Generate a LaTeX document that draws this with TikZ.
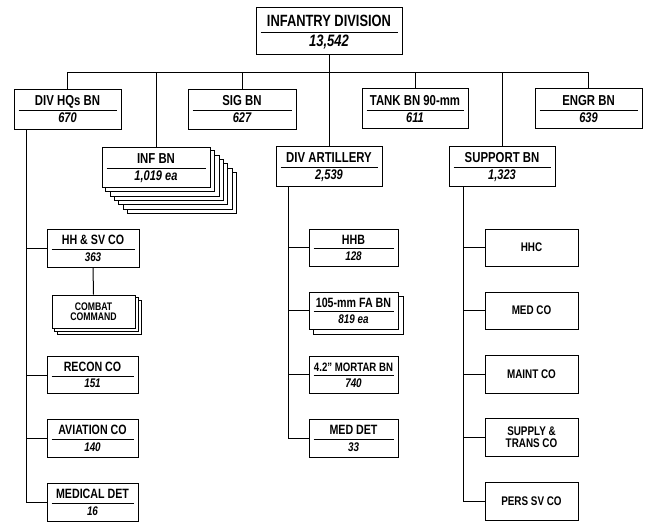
\documentclass[tikz,border=0pt]{standalone}
\usepackage{fontspec}
\setmainfont{Liberation Sans}[FakeStretch=0.79]
\usetikzlibrary{calc,backgrounds}
\tikzset{
 box/.style={draw, line width=1pt, fill=white, inner sep=0pt},
 ln/.style={line width=1pt},
 rl/.style={line width=0.8pt},
 txt/.style={anchor=base, inner sep=0pt},
 lbl/.style={inner sep=0pt, align=center},
}
% name cx cy w h title num titlesize numsize
\newcommand\OB[9]{%
 \node[box, minimum width=#4pt, minimum height=#5pt] (#1) at (#2,#3) {};
 \node[txt, font=\fontsize{#8}{#8}\selectfont\bfseries] (#1-t) at ($(#1.north)+(0,0.43*#5)$) {#6};
 \draw[rl] ($(#1.north west)+(5,0.55*#5)$) -- ($(#1.north east)+(-5,0.55*#5)$);
 \node[txt, font=\fontsize{#9}{#9}\selectfont\bfseries\itshape] (#1-n) at ($(#1.north)+(0,0.86*#5)$) {#7};
}
% name cx cy w h text size
\newcommand\SB[7]{%
 \node[box, minimum width=#4pt, minimum height=#5pt] (#1) at (#2,#3) {};
 \node[lbl, font=\fontsize{#7}{#7}\selectfont\bfseries] (#1-t) at (#1.center) {#6};
}
\begin{document}
\begin{tikzpicture}[x=1pt,y=-1pt]
\useasboundingbox (0,0) rectangle (650,525);
% top
\OB{div}{329}{30.5}{146}{47}{INFANTRY DIVISION}{13,542}{16.3}{16.5}
% row 1
\OB{hq}{67.5}{109}{107}{40}{DIV HQs BN}{670}{14.4}{14}
\OB{sig}{242}{109}{108}{40}{SIG BN}{627}{14.4}{14}
\OB{tank}{415}{108.5}{106}{40}{TANK BN 90-mm}{611}{14.4}{14}
\OB{engr}{588.5}{108.5}{107}{40}{ENGR BN}{639}{14.4}{14}
% row 2
\OB{inf}{156}{167}{108}{40}{INF BN}{1,019 ea}{14.4}{14}
\OB{art}{329}{166}{106}{40}{DIV ARTILLERY}{2,539}{14.4}{14}
\OB{sup}{502}{166}{106}{40}{SUPPORT BN}{1,323}{14.4}{14}
% HQ column
\OB{hhsv}{93}{248}{92}{38}{HH \& SV CO}{363}{13.5}{12.5}
\SB{cc}{93.5}{311.5}{83}{33}{COMBAT\\[-1pt]COMMAND}{11}
\OB{recon}{92.5}{375}{91}{37}{RECON CO}{151}{13.5}{12.5}
\OB{avn}{92.5}{438}{91}{38}{AVIATION CO}{140}{13.5}{12.5}
\OB{meddet}{92.5}{502}{91}{38}{MEDICAL DET}{16}{13.5}{12.5}
% artillery column
\OB{hhb}{353.5}{247.5}{89}{37}{HHB}{128}{13.5}{12.5}
\OB{fa}{353.5}{310.5}{89}{37}{105-mm FA BN}{819 ea}{13.5}{12.5}
\OB{mortar}{353.5}{374.5}{89}{37}{4.2'' MORTAR BN}{740}{12.2}{12.5}
\OB{med2}{353.5}{438}{89}{38}{MED DET}{33}{13.5}{12.5}
% support column
\SB{hhc}{531.5}{247.5}{93}{37}{HHC}{12.5}
\SB{medco}{531.5}{310.5}{93}{37}{MED CO}{12.5}
\SB{maint}{531.5}{374}{93}{38}{MAINT CO}{12.5}
\SB{supply}{531.5}{437}{93}{38}{SUPPLY \&\\[-1pt]TRANS CO}{12.5}
\SB{pers}{531.5}{501}{93}{38}{PERS SV CO}{12.5}
% stacks
\begin{pgfonlayer}{background}
 \foreach \k in {6,...,1}{
  \draw[box] ($(inf.south west)+(4.3*\k,4.3*\k)$) rectangle ($(inf.north east)+(4.3*\k,4.3*\k)$);
 }
 \foreach \k in {2,1}{
  \draw[box] ($(cc.south west)+(3*\k,3*\k)$) rectangle ($(cc.north east)+(3*\k,3*\k)$);
 }
 \draw[box] ($(fa.south west)+(4.5,4.5)$) rectangle ($(fa.north east)+(4.5,4.5)$);
\end{pgfonlayer}
% connectors
\coordinate (bus) at (0,72);
\draw[ln] (div.south) -- (art.north);
\draw[ln] (hq.north |- bus) -- (engr.north |- bus);
\foreach \n in {hq,sig,inf,tank,engr,sup} \draw[ln] (\n.north) -- (\n.north |- bus);
\coordinate (hqc) at ([xshift=13pt]hq.south west);
\draw[ln] (hqc) |- (meddet.west);
\foreach \n in {hhsv,recon,avn} \draw[ln] (hqc |- \n.west) -- (\n.west);
\draw[ln] (hhsv.south) -- (cc.north);
\coordinate (artc) at ([xshift=13pt]art.south west);
\draw[ln] (artc) |- (med2.west);
\foreach \n in {hhb,fa,mortar} \draw[ln] (artc |- \n.west) -- (\n.west);
\coordinate (supc) at ([xshift=15pt]sup.south west);
\draw[ln] (supc) |- (pers.west);
\foreach \n in {hhc,medco,maint,supply} \draw[ln] (supc |- \n.west) -- (\n.west);
\end{tikzpicture}
\end{document}
